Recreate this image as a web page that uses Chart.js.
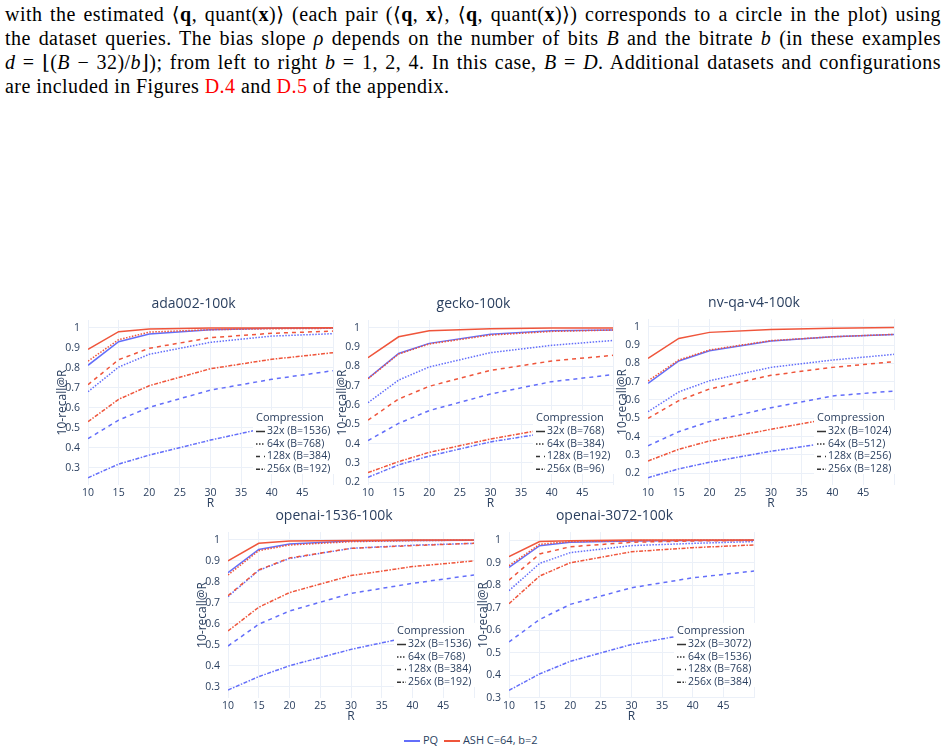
<!DOCTYPE html>
<html>
<head>
<meta charset="utf-8">
<script src="https://cdn.jsdelivr.net/npm/chart.js@4.4.1/dist/chart.umd.min.js"></script>
<style>
  body { margin: 0; width: 947px; height: 752px; background: #fff; position: relative; overflow: hidden; }
  .txt { position: absolute; left: 5px; top: 2px; width: 936px; font-family: "Liberation Serif", "DejaVu Serif", serif; font-size: 20px; letter-spacing: 0.45px; color: #000; }
  .txt div { height: 24px; line-height: 24px; text-align: justify; text-align-last: justify; white-space: nowrap; }
  .txt div.last { text-align-last: left; }
  .txt .red { color: #ff0000; }
  .txt i { font-style: italic; }
  canvas { position: absolute; }
  .bottomLegend { position: absolute; left: 404px; top: 732px; font-family: "Open Sans", sans-serif; font-size: 11px; color: #2a3f5f; white-space: nowrap; }
  .bottomLegend span.sw { display: inline-block; width: 16px; height: 2px; vertical-align: middle; margin-right: 3px; }
</style>
</head>
<body>
<div class="txt">
  <div>with the estimated ⟨<b>q</b>, quant(<b>x</b>)⟩ (each pair (⟨<b>q</b>, <b>x</b>⟩, ⟨<b>q</b>, quant(<b>x</b>)⟩) corresponds to a circle in the plot) using</div>
  <div>the dataset queries. The bias slope <i>ρ</i> depends on the number of bits <i>B</i> and the bitrate <i>b</i> (in these examples</div>
  <div><i>d</i> = ⌊(<i>B</i> − 32)/<i>b</i>⌋); from left to right <i>b</i> = 1, 2, 4. In this case, <i>B</i> = <i>D</i>. Additional datasets and configurations</div>
  <div class="last">are included in Figures <span class="red">D.4</span> and <span class="red">D.5</span> of the appendix.</div>
</div>

<canvas id="c1"></canvas>
<canvas id="c2"></canvas>
<canvas id="c3"></canvas>
<canvas id="c4"></canvas>
<canvas id="c5"></canvas>

<div class="bottomLegend">
  <span class="sw" style="background-color:#636efa"></span>PQ&nbsp;
  <span class="sw" style="background-color:#ef553b"></span>ASH C=64, b=2
</div>

<script>
// x values (R)
const rValues = [10, 15, 20, 30, 40, 50];
const compressions = ['32x', '64x', '128x', '256x'];

// ada002-100k  (rows: 32x, 64x, 128x, 256x)
const adaPQ = [
  [0.812, 0.930, 0.968, 0.990, 0.997, 0.998],
  [0.680, 0.803, 0.867, 0.927, 0.958, 0.970],
  [0.445, 0.538, 0.602, 0.688, 0.742, 0.785],
  [0.250, 0.318, 0.363, 0.438, 0.505, 0.540]
];
const adaASH = [
  [0.892, 0.980, 0.993, 0.998, 0.999, 1.000],
  [0.833, 0.940, 0.978, 0.990, 0.995, 0.997],
  [0.715, 0.840, 0.897, 0.950, 0.972, 0.983],
  [0.530, 0.642, 0.710, 0.795, 0.842, 0.875]
];
const adaBits = [1536, 768, 384, 192];

// gecko-100k
const geckoPQ = [
  [0.738, 0.867, 0.919, 0.966, 0.984, 0.988],
  [0.612, 0.729, 0.797, 0.871, 0.909, 0.934],
  [0.416, 0.505, 0.571, 0.657, 0.721, 0.757],
  [0.226, 0.290, 0.336, 0.409, 0.460, 0.490]
];
const geckoASH = [
  [0.845, 0.953, 0.984, 0.995, 0.998, 0.999],
  [0.736, 0.864, 0.916, 0.962, 0.981, 0.988],
  [0.522, 0.631, 0.697, 0.779, 0.828, 0.857],
  [0.250, 0.307, 0.355, 0.424, 0.480, 0.510]
];
const geckoBits = [768, 384, 192, 96];

// nv-qa-v4-100k
const nvPQ = [
  [0.691, 0.813, 0.869, 0.922, 0.945, 0.958],
  [0.536, 0.644, 0.705, 0.778, 0.818, 0.849],
  [0.350, 0.427, 0.482, 0.558, 0.622, 0.649],
  [0.176, 0.224, 0.260, 0.320, 0.370, 0.400]
];
const nvASH = [
  [0.827, 0.936, 0.969, 0.985, 0.991, 0.995],
  [0.704, 0.818, 0.873, 0.924, 0.945, 0.958],
  [0.500, 0.596, 0.660, 0.735, 0.778, 0.809],
  [0.267, 0.331, 0.376, 0.440, 0.500, 0.535]
];
const nvBits = [1024, 512, 256, 128];

// openai-1536-100k
const oa1536PQ = [
  [0.844, 0.955, 0.981, 0.995, 0.998, 0.999],
  [0.730, 0.855, 0.912, 0.960, 0.975, 0.984],
  [0.494, 0.598, 0.661, 0.745, 0.793, 0.833],
  [0.284, 0.348, 0.400, 0.478, 0.540, 0.570]
];
const oa1536ASH = [
  [0.900, 0.984, 0.995, 0.998, 1.000, 1.000],
  [0.833, 0.949, 0.976, 0.992, 0.997, 0.999],
  [0.734, 0.857, 0.914, 0.960, 0.973, 0.984],
  [0.566, 0.679, 0.749, 0.830, 0.873, 0.900]
];
const oa1536Bits = [1536, 768, 384, 192];

// openai-3072-100k
const oa3072PQ = [
  [0.878, 0.975, 0.990, 0.996, 0.998, 0.999],
  [0.775, 0.896, 0.944, 0.975, 0.985, 0.993],
  [0.547, 0.647, 0.714, 0.788, 0.832, 0.862],
  [0.332, 0.405, 0.461, 0.536, 0.585, 0.615]
];
const oa3072ASH = [
  [0.926, 0.993, 0.997, 1.000, 1.000, 1.000],
  [0.886, 0.981, 0.993, 0.997, 0.999, 0.999],
  [0.822, 0.938, 0.970, 0.990, 0.996, 0.998],
  [0.717, 0.840, 0.899, 0.948, 0.966, 0.978]
];
const oa3072Bits = [3072, 1536, 768, 384];

const PQ_COLOR = '#636efa';
const ASH_COLOR = '#ef553b';
const TEXT = '#2a3f5f';
const GRID = '#ebf0f8';
const DASHES = [[], [1.5, 1.5], [4, 4], [4, 1.5, 1.5, 1.5]];

const Y_W = 40, PAD_TOP = 40, PAD_R = 12, X_H = 30;

// overlay: title, axis titles, in-plot legend
const overlay = {
  id: 'overlay',
  afterDatasetsDraw(chart) {
    const o = chart.options.plugins.overlay;
    const ctx = chart.ctx, a = chart.chartArea;
    ctx.save();
    const lx = a.right - 80, ly = a.bottom - 75;
    ctx.fillStyle = '#fff';
    ctx.fillRect(lx, ly, 86, 64);
    ctx.fillStyle = TEXT;
    ctx.textBaseline = 'middle';
    ctx.textAlign = 'left';
    ctx.font = '11px "Open Sans"';
    ctx.fillText('Compression', lx + 3, a.bottom - 67.5);
    ctx.font = '10.5px "Open Sans"';
    const rows = [-53.5, -41, -28.5, -15.8];
    o.bits.forEach((b, i) => {
      const y = a.bottom + rows[i];
      ctx.strokeStyle = '#333';
      ctx.lineWidth = 1.5;
      ctx.setLineDash(DASHES[i]);
      ctx.beginPath();
      ctx.moveTo(lx + 3, y);
      ctx.lineTo(lx + 12, y);
      ctx.stroke();
      ctx.setLineDash([]);
      ctx.fillText(compressions[i] + ' (B=' + b + ')', lx + 14, y);
    });
    ctx.restore();
  },
  afterDraw(chart) {
    const o = chart.options.plugins.overlay;
    const ctx = chart.ctx, a = chart.chartArea;
    const cx = (a.left + a.right) / 2;
    ctx.save();
    ctx.fillStyle = TEXT;
    ctx.textAlign = 'center';
    ctx.textBaseline = 'middle';
    ctx.font = '14px "Open Sans"';
    ctx.fillText(o.title, cx - 17, a.top - 15.5);
    ctx.font = '12px "Open Sans"';
    ctx.fillText('R', cx, a.bottom + 18.5);
    ctx.translate(a.left - 25, (a.top + a.bottom) / 2);
    ctx.rotate(-Math.PI / 2);
    ctx.fillText('10-recall@R', 0, 0);
    ctx.restore();
  }
};

function makeChart(id, box, title, pq, ash, bits, yMin, yMax) {
  const cv = document.getElementById(id);
  const w = (box.R - box.L) + Y_W + PAD_R;
  const h = (box.B - box.T) + PAD_TOP + X_H;
  cv.width = w; cv.height = h;
  cv.style.left = (box.L - Y_W) + 'px';
  cv.style.top = (box.T - PAD_TOP) + 'px';
  cv.style.width = w + 'px';
  cv.style.height = h + 'px';

  const datasets = [];
  compressions.forEach((c, i) => {
    datasets.push({
      label: 'ASH ' + c,
      data: rValues.map((r, j) => ({ x: r, y: ash[i][j] })),
      borderColor: ASH_COLOR, borderDash: DASHES[i], order: 0
    });
  });
  compressions.forEach((c, i) => {
    datasets.push({
      label: 'PQ ' + c,
      data: rValues.map((r, j) => ({ x: r, y: pq[i][j] })),
      borderColor: PQ_COLOR, borderDash: DASHES[i], order: 1
    });
  });

  return new Chart(cv, {
    type: 'line',
    data: { datasets },
    options: {
      responsive: false,
      animation: false,
      devicePixelRatio: 1,
      layout: { padding: { left: 0, top: PAD_TOP, right: PAD_R, bottom: 0 } },
      elements: {
        line: { borderWidth: 1.5, tension: 0, fill: false },
        point: { radius: 0 }
      },
      plugins: {
        legend: { display: false },
        tooltip: { enabled: false },
        overlay: { title, bits }
      },
      scales: {
        x: {
          type: 'linear', min: 10, max: 50,
          border: { display: false },
          grid: { color: GRID, drawTicks: false },
          ticks: {
            stepSize: 5, padding: 2, maxRotation: 0, autoSkip: false, color: TEXT,
            font: { family: 'Open Sans', size: 10.5 },
            callback: v => (v === 50 ? '' : String(v))
          },
          afterFit: s => { s.height = X_H; }
        },
        y: {
          min: yMin, max: yMax,
          border: { display: false },
          grid: { color: GRID, drawTicks: false },
          ticks: {
            stepSize: 0.1, includeBounds: false, padding: 8, color: TEXT,
            font: { family: 'Open Sans', size: 10.5 },
            callback: v => (Math.abs(v - 1) < 1e-9 ? '1' : v.toFixed(1))
          },
          afterFit: s => { s.width = Y_W; }
        }
      }
    },
    plugins: [overlay]
  });
}

makeChart('c1', { L: 88, R: 333, T: 320, B: 485 }, 'ada002-100k', adaPQ, adaASH, adaBits, 0.2135, 1.0385);
makeChart('c2', { L: 368, R: 613, T: 320, B: 485 }, 'gecko-100k', geckoPQ, geckoASH, geckoBits, 0.186, 1.040);
makeChart('c3', { L: 648, R: 894, T: 319, B: 485 }, 'nv-qa-v4-100k', nvPQ, nvASH, nvBits, 0.136, 1.042);
makeChart('c4', { L: 228, R: 474, T: 532, B: 698 }, 'openai-1536-100k', oa1536PQ, oa1536ASH, oa1536Bits, 0.246, 1.038);
makeChart('c5', { L: 509, R: 754, T: 532, B: 698 }, 'openai-3072-100k', oa3072PQ, oa3072ASH, oa3072Bits, 0.298, 1.0356);
</script>
</body>
</html>
